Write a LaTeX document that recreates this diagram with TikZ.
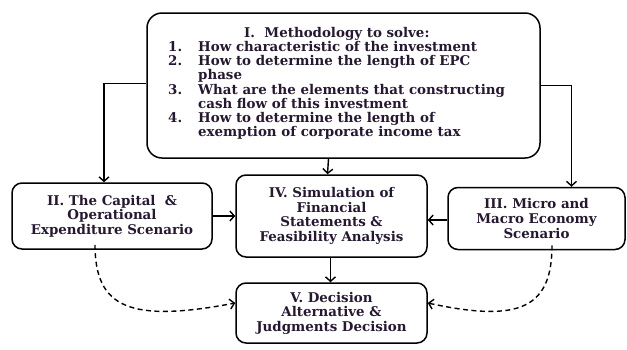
\documentclass[tikz,border=0pt]{standalone}
\usepackage{fontspec}
\setmainfont{DejaVu Serif}
\usetikzlibrary{arrows.meta}
\definecolor{ink}{RGB}{38,24,48}
\begin{document}
\begin{tikzpicture}[x=1pt,y=-1pt,
  box/.style={draw=black, line width=1.5pt, rounded corners=10pt, fill=white,
    text=ink, font=\bfseries\fontsize{13.4}{14.6}\selectfont, align=center, inner sep=0pt},
  bigbox/.style={box, rounded corners=15pt},
  arr/.style={line width=1.4pt, -{Straight Barb[length=4.5pt,width=10pt,line width=1.4pt]}},
  darr/.style={arr, dash pattern=on 5pt off 3.5pt}
]
\useasboundingbox (0,0) rectangle (627,349);

% boxes
\node[bigbox, minimum width=393pt, minimum height=145pt] (top) at (343.5,85.5) {};
\node[anchor=north west, inner sep=0pt, text=ink, align=left,
      font=\bfseries\fontsize{13.4}{13.4}\selectfont] (toptext) at (168,27)
  {\begin{tabular}{@{}p{30pt}@{}l@{}}
    \multicolumn{2}{@{\hspace{76pt}}l}{I.\ \ Methodology to solve:}\\
    1. & How characteristic of the investment\\
    2. & How to determine the length of EPC\\
       & phase\\
    3. & What are the elements that constructing\\
       & cash flow of this investment\\
    4. & How to determine the length of\\
       & exemption of corporate income tax
  \end{tabular}};

\node[box, minimum width=200pt, minimum height=66pt] (cap) at (112,216)
  {II. The Capital\ \ \&\\ Operational\\ Expenditure Scenario};
\node[box, minimum width=191pt, minimum height=82pt] (sim) at (331.5,216)
  {IV. Simulation of\\ Financial\\ Statements \&\\ Feasibility Analysis};
\node[box, minimum width=177pt, minimum height=62pt] (eco) at (536.5,218.5)
  {III. Micro and\\ Macro Economy\\ Scenario};
\node[box, minimum width=191pt, minimum height=60pt] (dec) at (331.5,313)
  {V. Decision\\ Alternative \&\\ Judgments Decision};

% solid connectors
\draw[arr] ([yshift=2pt]top.west) -| ([xshift=-8pt]cap.north);
\draw[arr] (top.east) -| ([xshift=35pt]eco.north);
\draw[arr] ([xshift=-15pt]top.south) -- ([xshift=-4pt]sim.north);
\draw[arr] (cap.east) -- (cap.east -| sim.west);
\draw[arr] ([yshift=-1.5pt]eco.west) -- ([yshift=-1.5pt]eco.west -| sim.east);
\draw[arr] ([xshift=-1pt]sim.south) -- ([xshift=-1pt]dec.north);

% dashed connectors
\coordinate (capfoot) at ([yshift=5pt]cap.south -| 95,0);
\coordinate (ecofoot) at ([yshift=5pt]eco.south -| 552,0);
\draw[darr] (capfoot) .. controls (95,308) and (130,323) .. ([yshift=10pt]dec.west);
\draw[darr] (ecofoot) .. controls (552,308) and (520,323) .. ([yshift=10pt]dec.east);
\end{tikzpicture}
\end{document}
